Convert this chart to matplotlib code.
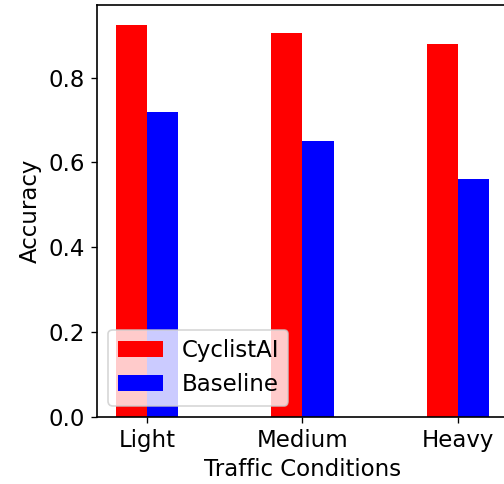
import matplotlib.pyplot as plt
import numpy as np

categories = ['Light', 'Medium', 'Heavy']
cyclistai = [0.925, 0.905, 0.88]
baseline = [0.72, 0.65, 0.56]

plt.rcParams['font.size'] = 13.75
plt.rcParams['axes.linewidth'] = 1.0

dpi = 120
fig = plt.figure(figsize=(505 / dpi, 484 / dpi), dpi=dpi)
# the reference is cropped on the right, so the right spine sits just off the canvas
ax = fig.add_axes([97 / 505, (484 - 417) / 484, 411 / 505, 412 / 484])

x = np.arange(len(categories))
width = 0.2
ax.bar(x - width, cyclistai, width, align='edge', color='red', label='CyclistAI')
ax.bar(x, baseline, width, align='edge', color='blue', label='Baseline')

ax.set_xticks(x)
ax.set_xticklabels(categories)
ax.set_xlabel('Traffic Conditions')
ax.set_ylabel('Accuracy')
ax.legend(loc='lower left')

fig.savefig('out.png', dpi=dpi)
